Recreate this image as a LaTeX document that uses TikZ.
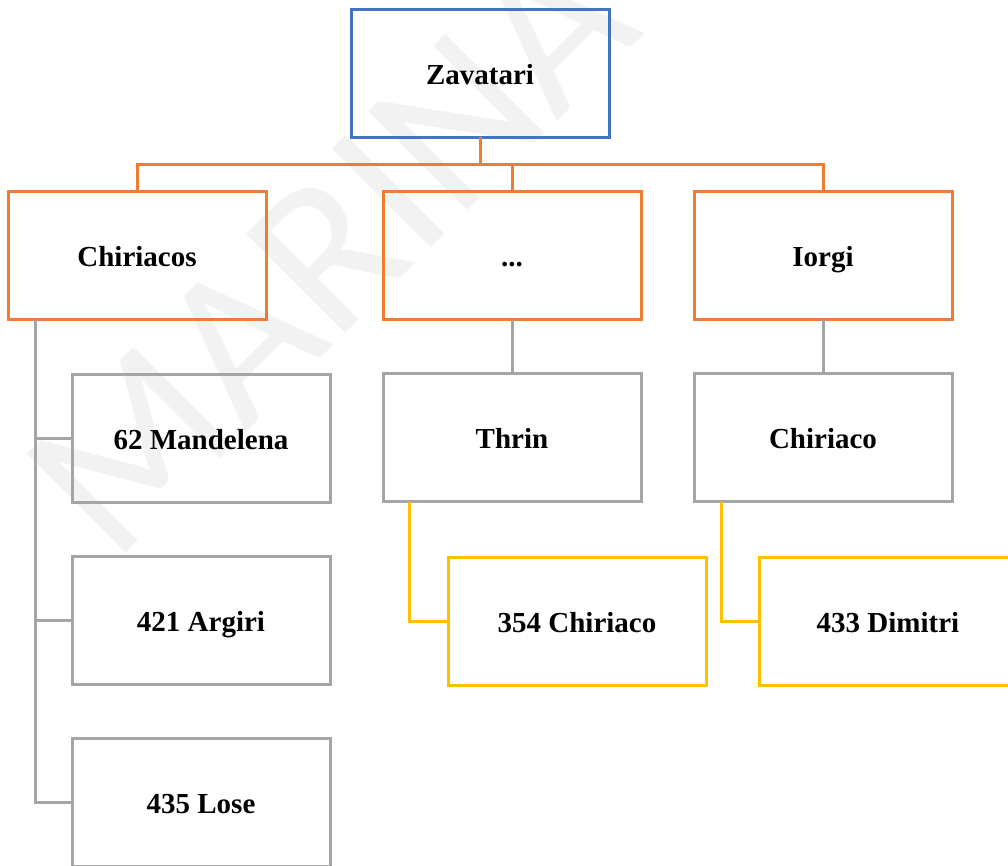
\documentclass[tikz,border=0pt]{standalone}
\usepackage{fontspec}
\setmainfont{Liberation Serif}
\newfontfamily\wmfont{Carlito}
\usetikzlibrary{positioning, calc}

\definecolor{blueoff}{HTML}{4472C4}
\definecolor{orangeoff}{HTML}{ED7D31}
\definecolor{grayoff}{HTML}{A5A5A5}
\definecolor{goldoff}{HTML}{FFC000}

\begin{document}
\begin{tikzpicture}[
  x=1pt, y=-1pt,
  node distance=54pt and 53pt,
  box/.style={rectangle, draw, line width=3pt, outer sep=0pt, inner sep=0pt,
              minimum width=258pt, minimum height=128pt,
              text height=22pt, text depth=0pt,
              align=center, font=\fontsize{29}{34}\selectfont\bfseries},
  rootbox/.style={box, draw=blueoff},
  famlbox/.style={box, draw=orangeoff},
  persbox/.style={box, draw=grayoff},
  heirbox/.style={box, draw=goldoff},
  orgln/.style={draw=orangeoff, line width=3pt},
  grayln/.style={draw=grayoff, line width=3pt},
  goldln/.style={draw=goldoff, line width=3pt},
]
\useasboundingbox (0,0) rectangle (1008,866);
\clip (0,0) rectangle (1008,866);
% Filigran
\node[rotate=45, text=black!5, font=\wmfont\fontsize{218}{218}\selectfont] (wmark) at (330,250) {MARINA};
% Radacina
\node[rootbox] (zav) at (480,73.5) {Zavatari};
% Ramurile
\node[famlbox] (chir)  at (137,255.5) {Chiriacos};
\node[famlbox] (dots)  at (512,255.5) {...};
\node[famlbox] (iorgi) at (823,255.5) {Iorgi};
% Sub Chiriacos
\node[persbox] (mand) at (201,438) {62 Mandelena};
\node[persbox, below=of mand] (argi) {421 Argiri};
\node[persbox, below=of argi] (lose) {435 Lose};
% Sub ... si Iorgi
\node[persbox, below=of dots]  (thrin) {Thrin};
\node[persbox, below=of iorgi] (chiri) {Chiriaco};
\node[heirbox] (chir354)  at (577,621) {354 Chiriaco};
\node[heirbox] (dimi433)  at (888,621) {433 Dimitri};
% Linii portocalii
\coordinate (bus) at ($(zav.south)+(0,27)$);
\draw[orgln] (zav.south) -- (bus) -| (chir.north);
\draw[orgln] (bus) -| (dots.north);
\draw[orgln] (bus) -| (iorgi.north);
% Linii gri
\coordinate (spine) at ($(chir.south west)+(27,0)$);
\draw[grayln] (spine) |- (mand.west);
\draw[grayln] (spine) |- (argi.west);
\draw[grayln] (spine) |- (lose.west);
\draw[grayln] (dots.south)  -- (thrin.north);
\draw[grayln] (iorgi.south) -- (chiri.north);
% Linii galbene
\draw[goldln] ($(thrin.south west)+(26,0)$) |- (chir354.west);
\draw[goldln] ($(chiri.south west)+(27,0)$) |- (dimi433.west);
\end{tikzpicture}
\end{document}
